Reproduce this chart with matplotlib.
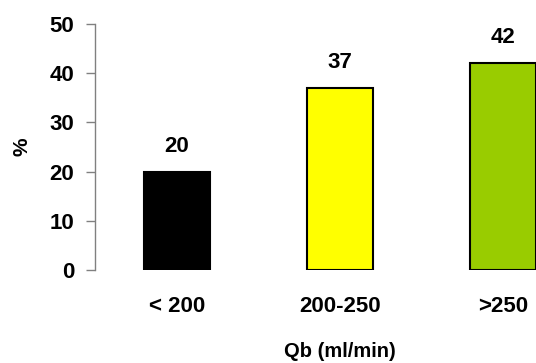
import matplotlib
matplotlib.use("Agg")
import matplotlib.pyplot as plt

categories = ["< 200", "200-250", ">250"]
values = [20, 37, 42]
colors = ["#000000", "#FFFF00", "#99CC00"]

plt.rcParams['font.family'] = ['Liberation Sans', 'DejaVu Sans']
plt.rcParams['font.weight'] = 'bold'

fig = plt.figure(figsize=(5.36, 3.63), dpi=100)
# axes run past the right edge of the picture, as in the original
ax = fig.add_axes([95 / 536, 93 / 363, 490 / 536, 246 / 363])

x = range(len(categories))
bars = ax.bar(x, values, width=0.405, color=colors, edgecolor='black', linewidth=1.5)
for b, v in zip(bars, values):
    ax.annotate(str(v), (b.get_x() + b.get_width() / 2, v), xytext=(0, 14.4),
                textcoords='offset points', ha='center', va='baseline',
                fontsize=16, fontweight='bold')

ax.set_xlim(-0.5, 2.5)
ax.set_ylim(0, 50)
ax.set_yticks(range(0, 51, 10))
ax.set_xticks(list(x))
ax.set_xticklabels(categories)

for s in ['top', 'right', 'bottom']:
    ax.spines[s].set_visible(False)
ax.spines['left'].set_color('#808080')
ax.spines['left'].set_linewidth(1.0)
ax.tick_params(axis='y', direction='out', length=6.5, width=1.0, color='#808080',
               pad=8.5, labelsize=16)
ax.tick_params(axis='x', length=0, pad=19, labelsize=16)
for lbl in ax.get_xticklabels() + ax.get_yticklabels():
    lbl.set_fontweight('bold')

ax.set_xlabel('Qb (ml/min)', fontsize=14.5, fontweight='bold', labelpad=18)
ax.set_ylabel('%', fontsize=15, fontweight='bold', labelpad=13)

fig.savefig('out.png', dpi=100)
